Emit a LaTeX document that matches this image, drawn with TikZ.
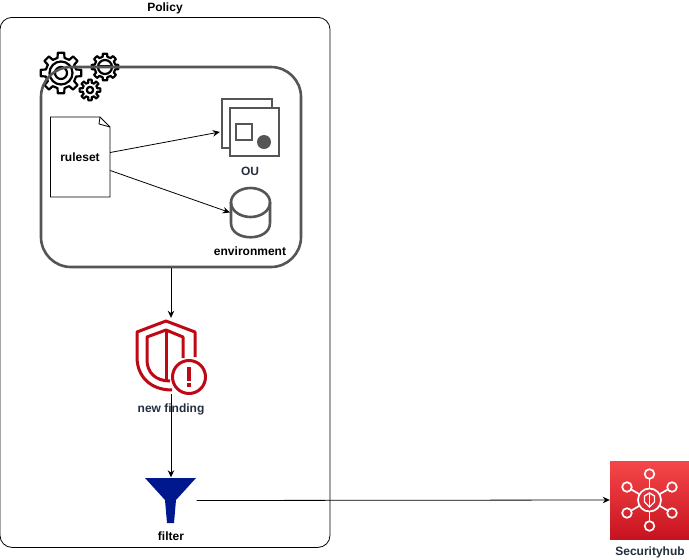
\documentclass[tikz,border=0pt]{standalone}
\usepackage{fontspec}
\setmainfont{Liberation Sans}
\usetikzlibrary{arrows.meta}
\definecolor{inkdark}{HTML}{232F3E}
\definecolor{boxgray}{HTML}{555555}
\definecolor{alarmred}{HTML}{BF0816}
\definecolor{funnelblue}{HTML}{00188D}
\definecolor{hubtop}{HTML}{F54749}
\definecolor{hubbottom}{HTML}{C7131F}
\tikzset{
	label text/.style={font=\bfseries\fontsize{12}{14}\selectfont,text=inkdark,inner sep=0pt},
	hollow/.style={inner sep=0pt,minimum width=#1},
	gear line/.style={line width=2.2pt,line join=round},
	icon line/.style={boxgray,line width=2.6pt},
	alarm line/.style={alarmred,line width=3pt,line join=round},
	hub line/.style={white,line width=1.7pt},
	every edge/.append style={line width=0.8pt}
}
\newcommand{\geardraw}[5]{
	\draw[gear line,shift={(#1,#2)}] (-13:#4) \foreach \t in {0,45,...,315} {-- (\t-13:#4) -- (\t-9:#3) -- (\t+9:#3) -- (\t+13:#4)} -- cycle;
	\draw[gear line,shift={(#1,#2)}] (0,0) circle (#5);
}
\begin{document}
\begin{tikzpicture}[x=1pt,y=-1pt,>={Stealth[length=7pt,width=6.5pt]}]
	\useasboundingbox (0,0) rectangle (689,560);
	\node at (165,17) [draw,rounded corners=12pt,minimum width=330pt,minimum height=530pt,inner sep=0pt,anchor=north,line width=0.8pt] (policy) {};
	\node at (165,8) [label text,text=black] (policylabel) {Policy};

	\geardraw{61}{73}{20.5}{15.5}{11.5}
	\draw[gear line] (61,73) circle (6);
	\geardraw{105}{67}{13.5}{10.5}{7}
	\draw[line width=1.5pt] (98,66) -- (112,66);
	\geardraw{90}{90}{10.5}{7.5}{3.2}

	\node at (171,167) [draw=boxgray,rounded corners=30pt,line width=2.6pt,minimum width=260pt,minimum height=200pt,inner sep=0pt] (rules) {};

	\draw[line width=0.8pt,fill=white] (50.5,117) -- (100,117) -- (110,127) -- (110,197) -- (50.5,197) -- cycle;
	\draw[line width=0.8pt] (100,117) -- (99,124) -- (110,127);
	\node at (80,157.5) [hollow=60pt,minimum height=80pt,label text,text=black] (ruleset) {ruleset};

	\node at (250,127.5) [hollow=60pt,minimum height=60pt] (ou) {};
	\draw[icon line,line width=2pt] (272,107) -- (272,99) -- (222,99) -- (222,148) -- (229,148);
	\draw[icon line] (230,108) rectangle (279,156);
	\draw[icon line,line width=2pt] (236,124) rectangle (252,140);
	\fill[boxgray] (264,142) circle (7);
	\node at (250,171.5) [label text] (oulabel) {OU};

	\node at (250.5,212.5) [hollow=41pt,minimum height=51pt] (environment) {};
	\draw[icon line] (231,202) -- (231,223) .. controls (231,242) and (270,242) .. (270,223) -- (270,202);
	\draw[icon line] (250.5,202.5) ellipse [x radius=19.5,y radius=14.5];
	\node at (250,251) [label text,text=black] (environmentlabel) {environment};

	\node at (171,356) [hollow=70pt,minimum height=76pt] (finding) {};
	\draw[alarm line] (195,357) -- (195,332) -- (166,321) -- (137,332) -- (137,357) .. controls (137,376) and (150,390) .. (172,390);
	\draw[alarm line] (183,358) -- (183,337) -- (166,330) -- (147,337) -- (147,360) .. controls (147,372) and (155,381) .. (170,381);
	\draw[alarm line] (166,330) -- (166,381);
	\draw[alarm line,fill=white] (189,377) circle (16.5);
	\draw[alarmred,line width=3.5pt] (189,367) -- (189,381);
	\fill[alarmred] (187.2,383) rectangle (190.8,387);
	\node at (171,409.5) [label text] (findinglabel) {new finding};

	\node at (171,500.5) [hollow=51pt,minimum height=46pt] (filter) {};
	\fill[funnelblue] (145,478) -- (196,478) -- (176,500) -- (174,523) -- (167,523) -- (165,500) -- cycle;
	\node at (171,536.5) [label text,text=black] (filterlabel) {filter};

	\node at (649.5,500) [minimum width=79pt,minimum height=78pt,inner sep=0pt,top color=hubtop,bottom color=hubbottom] (hub) {};
	\begin{scope}[shift={(649.5,500)}]
		\draw[hub line] (0,0) circle (11.5);
		\foreach \a in {30,90,...,330} {
			\draw[hub line] (\a:11.5) -- (\a:21);
			\draw[hub line] (\a:26) circle (4.8);
		}
		\draw[hub line,line width=1.4pt] (-5,-4) -- (0,-7) -- (5,-4) -- (5,2) -- (0,7) -- (-5,2) -- cycle;
		\draw[hub line,line width=1.4pt] (0,-7) -- (0,7);
	\end{scope}
	\node at (650,552.5) [label text] (hublabel) {Securityhub};

	\path[->] ([yshift=5pt]ruleset.east) edge ([yshift=-4.5pt]ou.west);
	\path[->] ([yshift=-13pt]ruleset.east) edge (environment.west);
	\path[->] (rules.south) edge (finding.north);
	\path[->] ([yshift=-38pt]finding.center) edge (filter.north);
	\path[->] (filter.east) edge (hub.west);
\end{tikzpicture}
\end{document}
